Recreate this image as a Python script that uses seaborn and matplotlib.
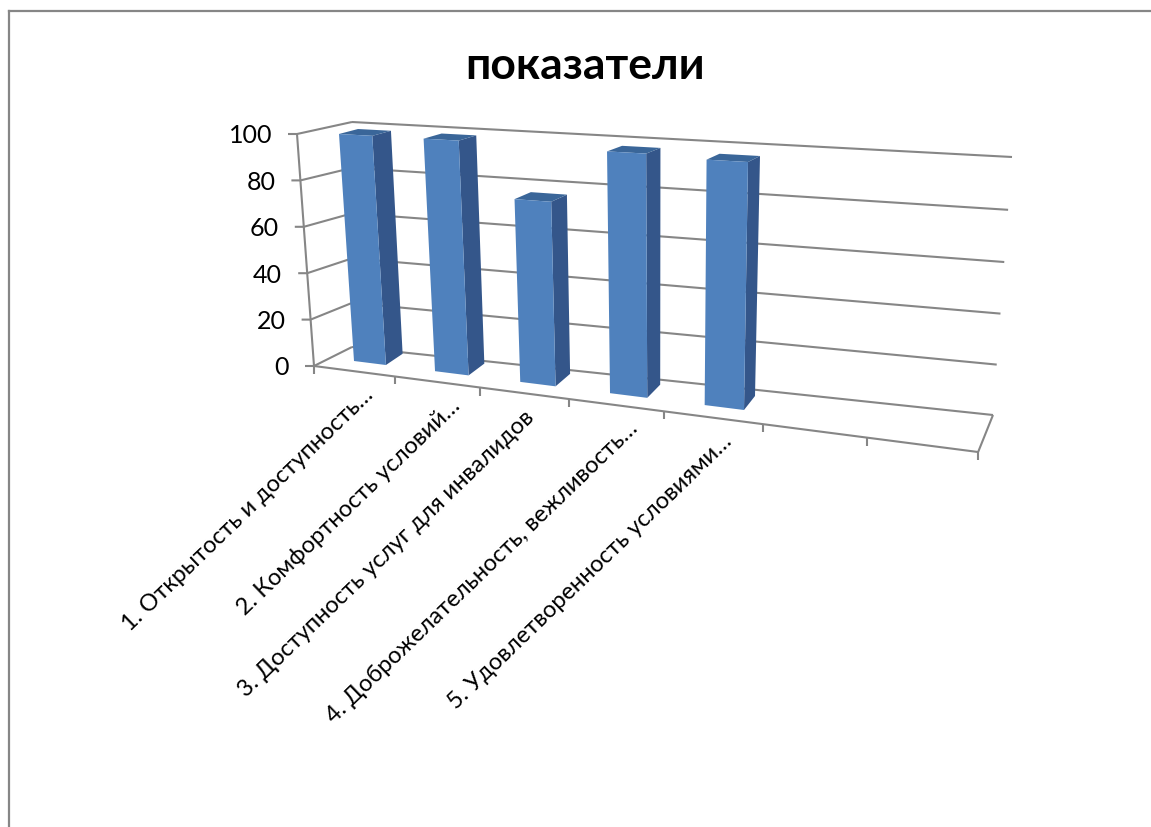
import matplotlib
matplotlib.use('Agg')
import matplotlib.pyplot as plt
from matplotlib.patches import Polygon
from matplotlib.transforms import Affine2D, Transform
import numpy as np
import seaborn as sns

categories = ['1. Открытость и доступность…', '2. Комфортность условий…',
              '3. Доступность услуг для инвалидов', '4. Доброжелательность, вежливость…',
              '5. Удовлетворенность условиями…', ' ', '  ']
values = [98, 98, 76, 97, 96, 0, 0]
y_ticks = [0, 20, 40, 60, 80, 100]

FRONT = '#4F81BD'
SIDE = '#34568A'
TOP = '#3A6699'
GRID = '#868686'
BAR_WIDTH = 0.4
LABEL_SHIFT = [0, 4, -10, 2, 0, 0, 0]


class Homography(Transform):
    input_dims = 2
    output_dims = 2
    is_separable = False

    def __init__(self, src, dst):
        super().__init__()
        rows, rhs = [], []
        for (u, v), (x, y) in zip(src, dst):
            rows.append([u, v, 1, 0, 0, 0, -u * x, -v * x])
            rows.append([0, 0, 0, u, v, 1, -u * y, -v * y])
            rhs += [x, y]
        self.m = np.append(np.linalg.solve(np.array(rows, float), np.array(rhs, float)), 1).reshape(3, 3)

    def transform_non_affine(self, values):
        pts = np.c_[values, np.ones(len(values))] @ self.m.T
        return pts[:, :2] / pts[:, 2:]


def front_edge(u):
    # floor front line, foreshortened towards the left
    t = u + .5
    s = 79.07 * t / (1 - .0238 * t)
    return 314 + s, 367 + s * 86 / 664


def left_edge(v):
    # front vertical of the left wall
    return 314 - 17 * v / 100, 367 - 232 * v / 100


# image pixels (y down) -> display
px = Affine2D().scale(1, -1).translate(0, 828)

# planes, pinned to what can be measured on the reference
back_wall = Homography([(-.5, 0), (6.5, 0), (6.5, 100), (-.5, 100)],
                       [(352, 348), (993, 416), (1012, 158), (352, 123)])
bar_front = Homography([(-.2, 0), (4.2, 0), (4.2, values[4]), (-.2, values[0])],
                       [(354, 362), (744, 411), (748, 163), (339, 135)])
bar_back = Homography([(-.2, 0), (4.2, 0), (4.2, values[4]), (-.2, values[0])],
                      [(371, 351), (755, 397), (760, 157), (358, 130)])

fig = plt.figure(figsize=(11.51, 8.28), dpi=100, facecolor='white')
plt.rcParams['font.family'] = ['Lato', 'Open Sans', 'DejaVu Sans']
ax = fig.add_axes([0, 0, 1, 1])
sns.barplot(x=categories, y=values, width=BAR_WIDTH, color=FRONT, saturation=1, ax=ax, zorder=5)
ax.set_axis_off()

line = dict(color=GRID, lw=1.5, solid_capstyle='butt')

# walls and floor
for v in y_ticks:
    ax.plot([-.5, 6.5], [v, v], transform=back_wall + px, zorder=1, **line)
    x, y = left_edge(v)
    bx, by = back_wall.transform([[-.5, v]])[0]
    ax.plot([x - 9, x, bx], [y, y, by], transform=px, zorder=1, **line)
    ax.text(x - 25, y + 1, str(v), transform=px, ha='right', va='center', fontsize=18, color='black')
ax.plot(*zip(left_edge(0), left_edge(100)), transform=px, zorder=1, **line)

fx, fy = front_edge(6.5)
bx, by = back_wall.transform([[6.5, 0]])[0]
ax.plot([314, fx, bx], [367, fy, by], transform=px, zorder=1, **line)

for i in range(len(categories) + 1):
    x, y = front_edge(i - .5)
    ax.plot([x, x], [y, y + 8], transform=px, zorder=1, **line)

for i, label in enumerate(categories):
    x, y = front_edge(i)
    ax.text(x + 9 + LABEL_SHIFT[i], y + 12, label.strip(), transform=px, rotation=44, rotation_mode='anchor',
            ha='right', va='top', fontsize=17, color='black')

# extrude the seaborn bars into boxes
for bar in list(ax.patches):
    x0, w, h = bar.get_x(), bar.get_width(), bar.get_height()
    if h == 0:
        continue
    x1 = x0 + w
    bar.set_linewidth(0)
    bar.set_transform(bar_front + px)
    f = bar_front.transform([[x1, 0], [x1, h], [x0, h]])
    b = bar_back.transform([[x1, 0], [x1, h], [x0, h]])
    ax.add_patch(Polygon([f[0], f[1], b[1], b[0]], transform=px, fc=SIDE, ec='none', zorder=4))
    ax.add_patch(Polygon([f[2], f[1], b[1], b[2]], transform=px, fc=TOP, ec='none', zorder=4))

ax.text(585, 66, 'показатели', transform=px, ha='center', va='center',
        fontsize=32, fontweight='bold', color='black')

# chart border
ax.plot([9, 9], [828, 12], transform=px, color=GRID, lw=1.6)
ax.plot([9, 1151], [12, 12], transform=px, color=GRID, lw=1.6)

fig.savefig('out.png', dpi=100)
